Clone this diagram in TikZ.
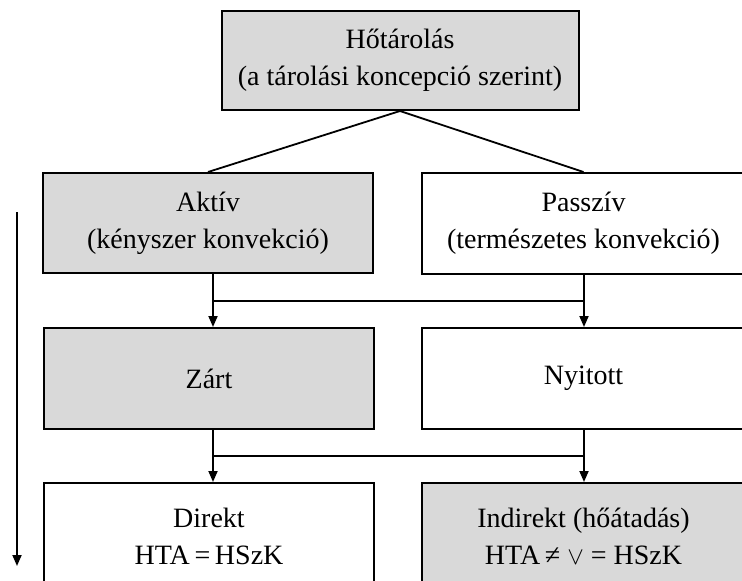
\documentclass[tikz,border=0pt]{standalone}
\usepackage{fontspec}
\setmainfont{Liberation Serif}
\usetikzlibrary{arrows.meta}
\definecolor{boxgray}{HTML}{D9D9D9}
\begin{document}
\begin{tikzpicture}[x=1pt,y=-1pt,
  box/.style={draw=black, line width=2pt, rectangle, align=center, inner sep=0pt,
    font=\fontsize{28}{37}\selectfont},
  gbox/.style={box, fill=boxgray},
  wbox/.style={box, fill=white},
  conn/.style={line width=1.8pt},
  arr/.style={line width=1.8pt, -{Triangle[length=11pt,width=9pt]}}]
\useasboundingbox (0,0) rectangle (742,581);
\node[gbox, minimum width=357pt, minimum height=99pt] (top) at (400,60.5) {Hőtárolás\\(a tárolási koncepció szerint)};
\node[gbox, minimum width=330pt, minimum height=100pt] (aktiv) at (208,223) {Aktív\\(kényszer konvekció)};
\node[wbox, minimum width=323pt, minimum height=101pt] (passziv) at (583.5,223.5) {Passzív\\(természetes konvekció)};
\node[gbox, minimum width=330pt, minimum height=101pt] (zart) at (209,378.5) {Zárt};
\node[wbox, minimum width=323pt, minimum height=101pt] (nyitott) at (583.5,378.5) {Nyitott};
\node[wbox, minimum width=330pt, minimum height=106pt] (direkt) at (209,536) {Direkt\\HTA\,=\,HSzK};
\node[gbox, minimum width=323pt, minimum height=106pt] (indirekt) at (583.5,536) {Indirekt (hőátadás)\\HTA\,≠ $\vee$ = HSzK};
% connectors
\draw[conn] (top.south) -- (aktiv.north);
\draw[conn] (top.south) -- (passziv.north);
\coordinate (j1l) at (213,301);
\coordinate (j1r) at (584,301);
\coordinate (j2l) at (213,456);
\coordinate (j2r) at (584,456);
\draw[conn] (aktiv.south -| j1l) -- (j1l) -- (j1r) -- (passziv.south -| j1r);
\draw[arr] (j1l) -- (zart.north -| j1l);
\draw[arr] (j1r) -- (nyitott.north -| j1r);
\draw[conn] (zart.south -| j2l) -- (j2l) -- (j2r) -- (nyitott.south -| j2r);
\draw[arr] (j2l) -- (direkt.north -| j2l);
\draw[arr] (j2r) -- (indirekt.north -| j2r);
% left arrow
\coordinate (la) at (17,212);
\coordinate (lb) at (17,566);
\draw[arr] (la) -- (lb);
\end{tikzpicture}
\end{document}
